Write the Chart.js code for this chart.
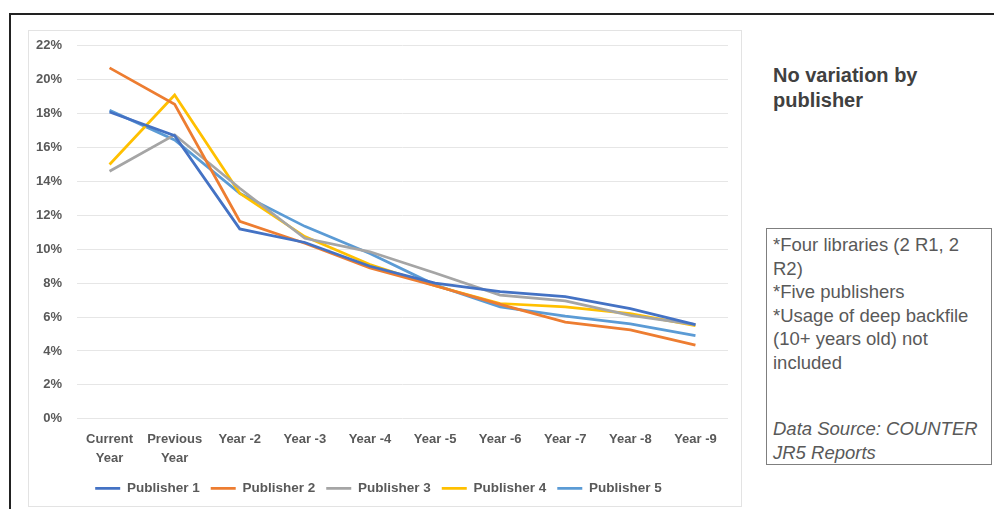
<!DOCTYPE html>
<html>
<head>
<meta charset="utf-8">
<script src="https://cdn.jsdelivr.net/npm/chart.js"></script>
<style>
  html, body { margin: 0; padding: 0; background: #fff; width: 994px; height: 509px; overflow: hidden; }
  .frame { position: absolute; left: 9px; top: 13px; width: 1100px; height: 600px; border: 2px solid #222; }
  .chartbox { position: absolute; left: 28px; top: 30px; width: 712px; height: 475px; border: 1px solid #e3e3e3; }
  .chartbox canvas { position: absolute; left: 0; top: -8px; }
  .note { position: absolute; left: 773px; top: 63px; font: bold 20px "Liberation Sans", Arial, sans-serif; color: #404040; line-height: 25px; }
  .box { position: absolute; left: 766px; top: 228px; width: 218px; height: 231px; border: 1px solid #7f7f7f;
         padding: 4px 0 0 6px; font: 18.5px "Liberation Sans", Arial, sans-serif; color: #595959; line-height: 23.5px; }
  .box i { display: block; margin-top: 43px; }
</style>
</head>
<body>
<div class="frame"></div>
<div class="chartbox"><canvas id="myChart" width="712" height="487"></canvas></div>
<div class="note">No variation by<br>publisher</div>
<div class="box">*Four libraries (2 R1, 2 R2)<br>*Five publishers<br>*Usage of deep backfile (10+ years old) not included<i>Data Source: COUNTER JR5 Reports</i></div>
<script>
const years = [
  ['Current', 'Year'], ['Previous', 'Year'], 'Year -2', 'Year -3', 'Year -4',
  'Year -5', 'Year -6', 'Year -7', 'Year -8', 'Year -9'
];
const publishers = ['Publisher 1', 'Publisher 2', 'Publisher 3', 'Publisher 4', 'Publisher 5'];
const colors = ['#4472C4', '#ED7D31', '#A5A5A5', '#FFC000', '#5B9BD5'];

// share of usage, percent
const pub1 = [18.1, 16.7, 11.2, 10.4, 9.0, 8.0, 7.5, 7.2, 6.5, 5.55];
const pub2 = [20.7, 18.55, 11.65, 10.35, 8.9, 7.85, 6.75, 5.7, 5.25, 4.35];
const pub3 = [14.6, 16.75, 13.6, 10.65, 9.85, 8.6, 7.3, 6.95, 6.1, 5.55];
const pub4 = [15.0, 19.1, 13.3, 10.75, 9.1, 7.85, 6.8, 6.6, 6.2, 5.5];
const pub5 = [18.2, 16.45, 13.3, 11.35, 9.75, 7.9, 6.6, 6.05, 5.6, 4.9];
const series = [pub1, pub2, pub3, pub4, pub5];

const tickFont = { family: '"Liberation Sans", Arial, sans-serif', size: 13, weight: 'bold', lineHeight: 1.45 };

new Chart(document.getElementById('myChart'), {
  type: 'line',
  data: {
    labels: years,
    datasets: publishers.map((p, i) => ({
      label: p,
      data: series[i],
      borderColor: colors[i],
      backgroundColor: colors[i],
      borderWidth: 2.75,
      pointRadius: 0,
      tension: 0
    }))
  },
  options: {
    responsive: false,
    animation: false,
    layout: { padding: { top: 0, right: 13, left: 0, bottom: 5 } },
    plugins: {
      tooltip: { enabled: false },
      legend: {
        position: 'bottom',
        labels: {
          usePointStyle: true,
          pointStyle: 'line',
          pointStyleWidth: 25,
          boxHeight: 2,
          padding: 11,
          color: '#595959',
          font: { family: tickFont.family, size: 13.5, weight: 'bold' }
        }
      }
    },
    scales: {
      x: {
        offset: true,
        grid: { display: false },
        border: { display: false },
        ticks: { color: '#595959', font: tickFont, maxRotation: 0, autoSkip: false, padding: 3 }
      },
      y: {
        min: 0,
        max: 22,
        afterFit: s => { s.width = 48; },
        grid: { color: '#e6e6e6', drawTicks: false, lineWidth: 1 },
        border: { display: false },
        ticks: { stepSize: 2, color: '#595959', font: { family: tickFont.family, size: 13, weight: 'bold' }, padding: 15, callback: v => v + '%' }
      }
    }
  }
});
</script>
</body>
</html>
